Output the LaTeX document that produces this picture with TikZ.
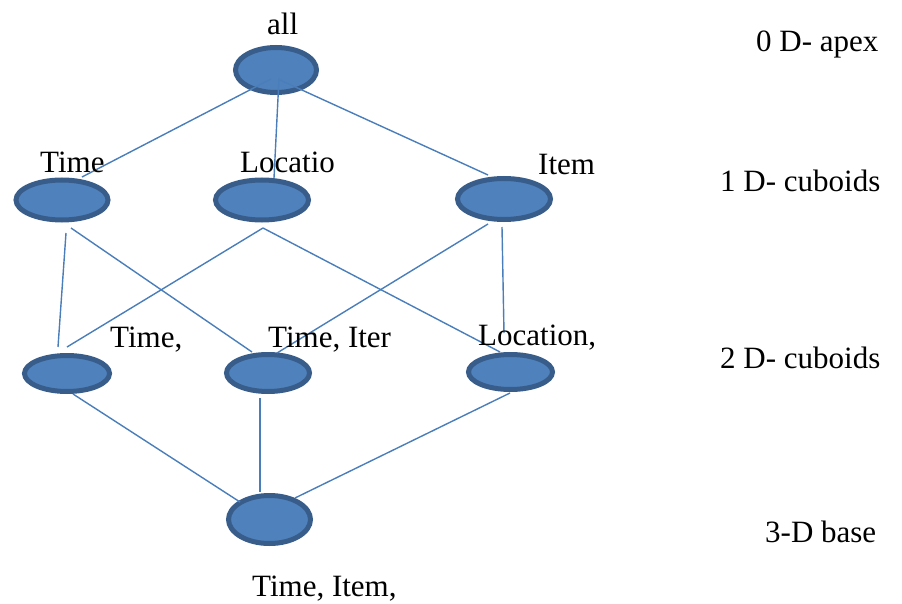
\documentclass[tikz,border=0pt]{standalone}
\usepackage{fontspec}
\setmainfont{Liberation Serif}
\usetikzlibrary{calc,shapes.geometric}
\definecolor{cfill}{HTML}{4F81BD}
\definecolor{cedge}{HTML}{385D8A}
\definecolor{cline}{HTML}{4A7EBB}
\tikzset{
  cub/.style={ellipse, draw=cedge, fill=cfill, line width=5pt, inner sep=0pt},
  conn/.style={draw=cline, line width=1.4pt},
  lbl/.style={anchor=base west, inner sep=0pt, font=\fontsize{31}{36}\selectfont},
}
\begin{document}
\begin{tikzpicture}[x=1pt, y=-1pt]
\useasboundingbox (0,0) rectangle (902,604);
% cuboid ellipses
\node[cub, minimum width=81pt, minimum height=45pt] (all) at (276,70) {};
\node[cub, minimum width=92pt, minimum height=40pt] (t1) at (62,200) {};
\node[cub, minimum width=93pt, minimum height=40pt] (l1) at (262,200) {};
\node[cub, minimum width=93pt, minimum height=41pt] (i1) at (504,199) {};
\node[cub, minimum width=85pt, minimum height=36pt] (a2) at (67,373.5) {};
\node[cub, minimum width=83pt, minimum height=37pt] (b2) at (268,373) {};
\node[cub, minimum width=84pt, minimum height=35pt] (c2) at (510.5,372) {};
\node[cub, minimum width=82pt, minimum height=48pt] (d3) at (269.5,519.5) {};
% connectors
\draw[conn] ($(all)+(-5,9)$) -- ($(t1)+(20,-23)$);
\draw[conn] ($(all)+(3,8)$) -- ($(l1)+(12,-22)$);
\draw[conn] ($(all)+(4,10)$) -- ($(i1)+(-16,-24)$);
\draw[conn] ($(t1)+(4,33)$) -- ($(a2)+(-9,-26.5)$);
\draw[conn] ($(t1)+(9,28)$) -- ($(b2)+(-16,-21)$);
\draw[conn] ($(l1)+(1,28)$) -- ($(a2)+(0,-26.5)$);
\draw[conn] ($(l1)+(1,28)$) -- ($(c2)+(-10.5,-20)$);
\draw[conn] ($(i1)+(-16,25)$) -- ($(b2)+(9,-20)$);
\draw[conn] ($(i1)+(-2,28)$) -- ($(c2)+(-6.5,-39)$);
\draw[conn] ($(a2)+(6,20.5)$) -- ($(d3)+(-29.5,-17.5)$);
\draw[conn] ($(b2)+(-8,25)$) -- ($(d3)+(-9.5,-27.5)$);
\draw[conn] ($(c2)+(-0.5,21)$) -- ($(d3)+(25.5,-21.5)$);
% node labels
\node[lbl] (tall) at (267,35) {all};
\node[lbl] (tt1) at (40,173) {Time};
\node[lbl] (tl1) at (240,173) {Locatio};
\node[lbl] (ti1) at (538,175) {Item};
\node[lbl] (ta2) at (110,347) {Time,};
\node[lbl] (tb2) at (268,347) {Time, Iter};
\node[lbl] (tc2) at (478,345) {Location,};
\node[lbl] (td3) at (252,596) {Time, Item,};
% level labels
\node[lbl] (lv0) at (756,52) {0 D- apex};
\node[lbl] (lv1) at (720,192) {1 D- cuboids};
\node[lbl] (lv2) at (720,368) {2 D- cuboids};
\node[lbl] (lv3) at (765,542) {3-D base};
\end{tikzpicture}
\end{document}
